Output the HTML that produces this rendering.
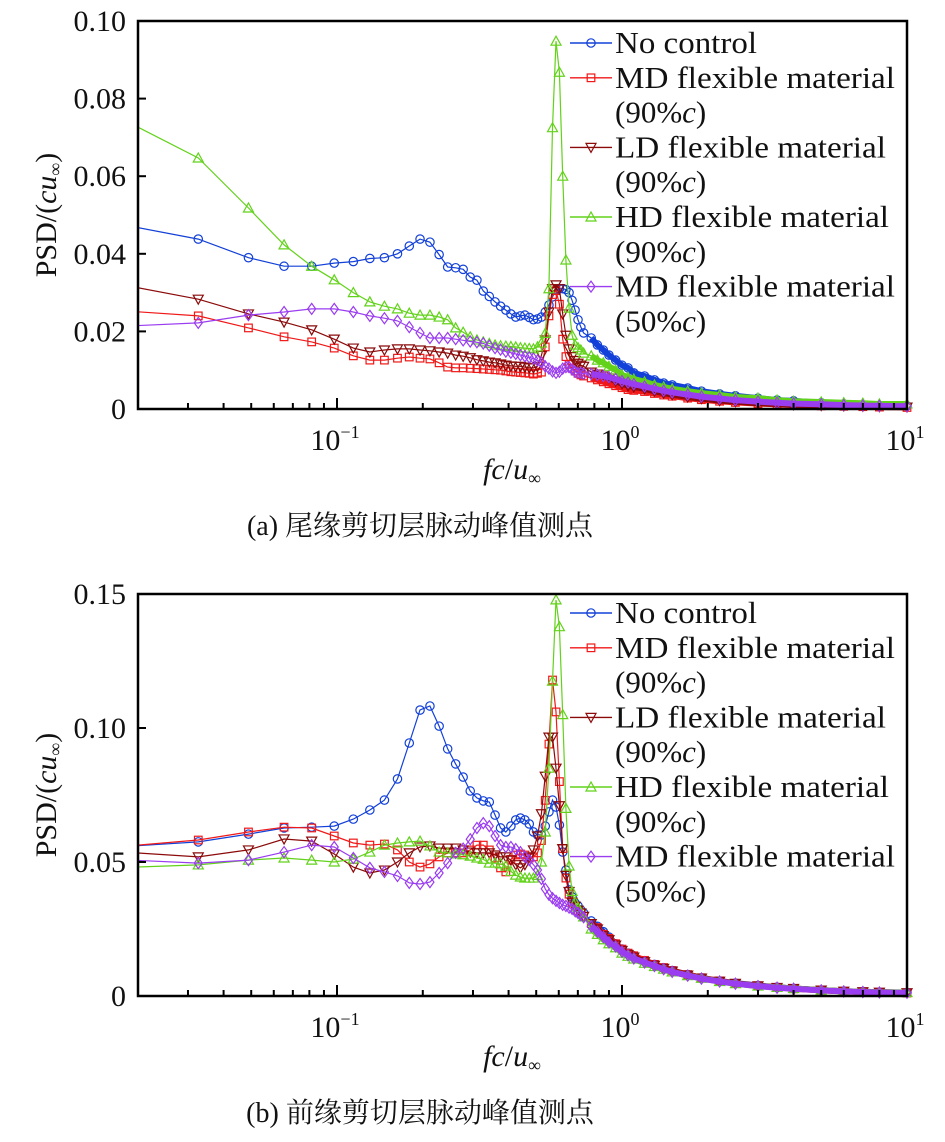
<!DOCTYPE html>
<html><head><meta charset="utf-8"><style>
html,body{margin:0;padding:0;background:#fff;}
svg{display:block;font-family:"Liberation Serif","Noto Serif CJK SC",serif;}
</style></head><body>
<svg id="fig" width="945" height="1142" viewBox="0 0 945 1142" xmlns="http://www.w3.org/2000/svg">
<rect width="945" height="1142" fill="#fff"/>
</svg>
<script>
const freq=[0.0163,0.0326,0.0489,0.0652,0.0815,0.0978,0.1141,0.1304,0.1467,0.163,0.1793,0.1956,0.2119,0.2282,0.2445,0.2608,0.2771,0.2934,0.3097,0.326,0.3423,0.3586,0.3749,0.3912,0.4075,0.4238,0.4401,0.4564,0.4727,0.489,0.5053,0.5216,0.5379,0.5542,0.5705,0.5868,0.6031,0.6194,0.6357,0.652,0.6683,0.6846,0.7009,0.7172,0.7335,
0.78,0.82,0.86,0.9,0.95,1.0,1.05,1.1,1.2,1.3,1.4,1.5,1.7,1.9,2.2,2.5,3,3.5,4,5,6,7,8,10];

const topBlue=[0.048,0.0438,0.039,0.0368,0.0368,0.0376,0.038,0.0388,0.039,0.040,0.042,0.0438,0.043,0.0398,0.0366,0.0364,0.036,0.034,0.0332,0.0304,0.029,0.0276,0.0265,0.0255,0.0245,0.0237,0.024,0.0242,0.0236,0.023,0.0232,0.0237,0.025,0.0268,0.0289,0.0307,0.031,0.031,0.0308,0.030,0.028,0.0255,0.023,0.0211,0.0196,
0.0183,0.0165,0.0152,0.0139,0.0126,0.0113,0.0106,0.0093,0.0085,0.0075,0.0067,0.0062,0.0054,0.0046,0.0039,0.0034,0.0028,0.0023,0.0021,0.0016,0.0013,0.001,0.0009,0.0008];
const topRed=[0.0255,0.024,0.0209,0.0186,0.0173,0.0157,0.0137,0.0126,0.0126,0.0131,0.0134,0.0131,0.0129,0.0119,0.0108,0.0106,0.0106,0.0105,0.0104,0.0103,0.0102,0.0101,0.01,0.0098,0.0096,0.0095,0.0094,0.0093,0.0092,0.009,0.0092,0.0095,0.016,0.024,0.0295,0.0305,0.027,0.018,0.0135,0.0115,0.0105,0.0098,0.0092,0.0088,0.0085,
0.008,0.0075,0.007,0.0065,0.006,0.0055,0.005,0.0048,0.0045,0.004,0.0036,0.0033,0.0028,0.0024,0.002,0.0017,0.0014,0.0012,0.001,0.0008,0.0007,0.0006,0.0005,0.0004];
const topLD=[0.0325,0.0283,0.0245,0.0224,0.0204,0.018,0.0157,0.0147,0.0152,0.0155,0.0155,0.0152,0.015,0.0147,0.0144,0.0139,0.0136,0.0132,0.0127,0.0124,0.0121,0.0119,0.0116,0.0113,0.0111,0.011,0.011,0.0108,0.0106,0.0106,0.011,0.0138,0.0178,0.025,0.031,0.032,0.031,0.0245,0.019,0.0155,0.0135,0.0125,0.0118,0.0113,0.011,
0.0095,0.009,0.0085,0.008,0.0072,0.0065,0.006,0.0057,0.0052,0.0046,0.0041,0.0037,0.0031,0.0027,0.0022,0.0019,0.0015,0.0013,0.0011,0.0009,0.0008,0.0007,0.0006,0.0005];
const topGreen=[0.076,0.0647,0.0518,0.0423,0.0368,0.0333,0.030,0.0276,0.0265,0.0258,0.0247,0.0242,0.0242,0.0237,0.023,0.0209,0.0198,0.0186,0.0178,0.0173,0.0169,0.0165,0.0163,0.0162,0.0161,0.016,0.0158,0.0157,0.0156,0.0155,0.016,0.017,0.0195,0.031,0.0725,0.0948,0.0868,0.060,0.0384,0.026,0.019,0.0165,0.0158,0.0152,0.0144,
0.0137,0.0126,0.0119,0.011,0.01,0.0088,0.0082,0.0077,0.007,0.0062,0.0057,0.0052,0.0046,0.0041,0.0036,0.0031,0.0028,0.0023,0.002,0.0018,0.0016,0.0015,0.0013,0.0013];
const topPurple=[0.0212,0.0222,0.0242,0.025,0.0258,0.0258,0.025,0.024,0.0234,0.0227,0.0211,0.0196,0.0183,0.0183,0.0183,0.018,0.0177,0.0174,0.0172,0.0169,0.0163,0.0157,0.0153,0.0148,0.0145,0.0142,0.0139,0.0136,0.0133,0.013,0.0125,0.012,0.011,0.0104,0.0097,0.0093,0.0096,0.0104,0.0108,0.0108,0.0102,0.0096,0.0093,0.0093,0.0091,
0.009,0.0088,0.0085,0.0082,0.0077,0.0072,0.0068,0.0064,0.0058,0.0052,0.0047,0.0043,0.0037,0.0032,0.0027,0.0023,0.0019,0.0016,0.0014,0.0012,0.001,0.0009,0.0008,0.0007];

const botBlue=[0.0555,0.0575,0.0604,0.0627,0.063,0.0634,0.066,0.0694,0.0731,0.081,0.0944,0.1067,0.1082,0.1007,0.0922,0.0866,0.0817,0.0765,0.0739,0.0728,0.0724,0.0675,0.0627,0.0612,0.0634,0.0657,0.0664,0.0657,0.0642,0.0612,0.0601,0.0601,0.0634,0.0687,0.0731,0.0705,0.0638,0.0537,0.047,0.0396,0.037,0.0347,0.0336,0.0321,0.031,
0.028,0.026,0.024,0.022,0.0195,0.0175,0.016,0.015,0.0132,0.0118,0.0105,0.0095,0.008,0.0068,0.0056,0.0048,0.0039,0.0033,0.0028,0.0022,0.0018,0.0016,0.0014,0.0012];
const botRed=[0.0555,0.0582,0.0612,0.063,0.0627,0.0597,0.0571,0.0563,0.0567,0.0545,0.05,0.0481,0.0493,0.0519,0.0534,0.0534,0.0534,0.0545,0.0563,0.0563,0.0545,0.0515,0.0478,0.0463,0.051,0.0526,0.053,0.0526,0.0515,0.0519,0.0534,0.058,0.073,0.094,0.1179,0.106,0.08,0.055,0.044,0.038,0.035,0.0335,0.032,0.031,0.0297,
0.027,0.0255,0.023,0.0215,0.0195,0.0175,0.016,0.015,0.0133,0.0118,0.0106,0.0095,0.008,0.0068,0.0056,0.0047,0.0038,0.0032,0.0027,0.0021,0.0017,0.0015,0.0013,0.0011];
const botLD=[0.054,0.0519,0.0545,0.0586,0.0578,0.053,0.0481,0.0459,0.047,0.05,0.0534,0.0556,0.056,0.0552,0.0552,0.0552,0.0545,0.0537,0.0534,0.0534,0.0534,0.0526,0.0519,0.0519,0.0507,0.049,0.0478,0.049,0.0519,0.0545,0.0597,0.068,0.082,0.0966,0.0966,0.085,0.071,0.055,0.045,0.039,0.035,0.0335,0.032,0.031,0.0297,
0.027,0.025,0.0225,0.021,0.019,0.017,0.0155,0.0145,0.0128,0.0115,0.0103,0.0093,0.0078,0.0067,0.0055,0.0047,0.0038,0.0032,0.0028,0.0022,0.0018,0.0016,0.0014,0.0012];
const botGreen=[0.0478,0.0489,0.0507,0.0515,0.0507,0.05,0.0511,0.0537,0.0563,0.0571,0.0575,0.0578,0.056,0.0537,0.0534,0.053,0.0527,0.0522,0.0515,0.051,0.0496,0.0496,0.0493,0.0485,0.0465,0.0451,0.0444,0.044,0.044,0.044,0.045,0.050,0.0612,0.085,0.1175,0.1478,0.1378,0.105,0.07,0.0485,0.039,0.035,0.033,0.031,0.0295,
0.025,0.023,0.021,0.0195,0.018,0.016,0.0148,0.0138,0.0122,0.011,0.01,0.009,0.0076,0.0066,0.0054,0.0046,0.0037,0.0032,0.0028,0.0022,0.0018,0.0016,0.0014,0.0013];
const botPurple=[0.051,0.0496,0.0507,0.0537,0.0563,0.0556,0.0515,0.0478,0.0463,0.0448,0.0422,0.0418,0.0425,0.0459,0.0496,0.0534,0.055,0.0585,0.0627,0.0645,0.0634,0.0597,0.0563,0.0556,0.0556,0.0548,0.0537,0.0519,0.0507,0.049,0.047,0.0437,0.040,0.0378,0.0365,0.0355,0.0347,0.034,0.0336,0.033,0.0325,0.0317,0.031,0.0302,0.0294,
0.026,0.024,0.022,0.02,0.0185,0.0165,0.0152,0.014,0.0125,0.0112,0.01,0.009,0.0076,0.0065,0.0054,0.0046,0.0037,0.0031,0.0027,0.0021,0.0017,0.0015,0.0013,0.0012];

const topYTicks=[0,0.02,0.04,0.06,0.08,0.10];
const topYLabels=["0","0.02","0.04","0.06","0.08","0.10"];
const botYTicks=[0,0.05,0.10,0.15];
const botYLabels=["0","0.05","0.10","0.15"];
const xMajor=[0.1,1,10];
const xMajorExp=["\u22121","0","1"];
const xMinor=[0.03,0.04,0.05,0.06,0.07,0.08,0.09,0.2,0.3,0.4,0.5,0.6,0.7,0.8,0.9,2,3,4,5,6,7,8,9];

const NS="http://www.w3.org/2000/svg";
const svg=document.getElementById('fig');
function mk(tag,attrs,parent){const e=document.createElementNS(NS,tag);for(const k in attrs)e.setAttribute(k,attrs[k]);(parent||svg).appendChild(e);return e;}

const X0=138,X1=907;
const LOGMIN=-1-199/285, LOGMAX=1;
function xs(f){return X0+(Math.log10(f)-LOGMIN)/(LOGMAX-LOGMIN)*(X1-X0);}

function marker(g,type,x,y,color){
  let e;
  if(type==='circle'){e=mk('circle',{cx:x,cy:y,r:4.2,fill:'none',stroke:color,'stroke-width':1.2},g);}
  else if(type==='square'){e=mk('rect',{x:x-3.8,y:y-3.8,width:7.6,height:7.6,fill:'none',stroke:color,'stroke-width':1.2},g);}
  else if(type==='down'){e=mk('polygon',{points:`${x-5},${y-4} ${x+5},${y-4} ${x},${y+5}`,fill:'none',stroke:color,'stroke-width':1.2},g);}
  else if(type==='up'){e=mk('polygon',{points:`${x-5},${y+4} ${x+5},${y+4} ${x},${y-5}`,fill:'none',stroke:color,'stroke-width':1.2},g);}
  else {e=mk('polygon',{points:`${x},${y-5.5} ${x+4},${y} ${x},${y+5.5} ${x-4},${y}`,fill:'none',stroke:color,'stroke-width':1.2},g);}
  return e;
}

function drawChart(id,Y0,Y1,ymax,ticks,labels,series,legendTop,titleY,caption,captionY){
  const ys=v=>Y1-v/ymax*(Y1-Y0);
  const root=mk('g',{});
  
  
  const cp=mk('clipPath',{id:id+'-clip'},root);
  mk('rect',{x:X0,y:Y0-2,width:X1-X0+6,height:Y1-Y0+8},cp);
  const plot=mk('g',{'clip-path':`url(#${id}-clip)`},root);
  
  
  series.forEach(s=>{
    const g=mk('g',{},plot);
    
    
    const pts=s.data.map((v,i)=>xs(freq[i]).toFixed(1)+','+ys(v).toFixed(1)).join(' ');
    const line=mk('polyline',{points:pts,fill:'none',stroke:s.color,'stroke-width':1.2},g);
    
    
    const tailPts=s.data.map((v,i)=>freq[i]>0.74?xs(freq[i]).toFixed(1)+','+ys(v).toFixed(1):null).filter(p=>p).join(' ');
    const band=mk('polyline',{points:tailPts,fill:'none',stroke:s.color,'stroke-width':6,'stroke-linejoin':'round'},g);
    
    
    s.data.forEach((v,i)=>{
      const m=marker(g,s.marker,xs(freq[i]),ys(v),s.color);
      
      
    });
  });
  const fr=mk('rect',{x:X0,y:Y0,width:X1-X0,height:Y1-Y0,fill:'none',stroke:'#000','stroke-width':2.5},root);
  
  
  ticks.forEach((t,i)=>{
    const y=ys(t);
    const tk=mk('line',{x1:X0,x2:X0+8,y1:y,y2:y,stroke:'#000','stroke-width':2},root);
    
    
    const tx=mk('text',{x:126,y:y+10,'text-anchor':'end','font-size':30,fill:'#111'},root);
    tx.textContent=labels[i];
    
    
  });
  xMinor.forEach(f=>{
    const x=xs(f);
    const tk=mk('line',{x1:x,x2:x,y1:Y1,y2:Y1-6,stroke:'#000','stroke-width':2},root);
    
    
  });
  xMajor.forEach((f,i)=>{
    const x=xs(f);
    const tk=mk('line',{x1:x,x2:x,y1:Y1,y2:Y1-11,stroke:'#000','stroke-width':2},root);
    
    
    const tx=mk('text',{x:x-2,y:Y1+41,'text-anchor':'middle','font-size':30,fill:'#111'},root);
    
    
    const a=mk('tspan',{},tx);a.textContent='10';
    const b=mk('tspan',{'font-size':18,dy:-12},tx);b.textContent=xMajorExp[i];
  });
  const xt=mk('text',{x:512,y:Y1+70,'text-anchor':'middle','font-size':30,fill:'#111'},root);
  
  
  let t1=mk('tspan',{'font-style':'italic'},xt);t1.textContent='fc';
  let t2=mk('tspan',{},xt);t2.textContent='/';
  let t3=mk('tspan',{'font-style':'italic'},xt);t3.textContent='u';
  let t4=mk('tspan',{'font-size':18,dy:5},xt);t4.textContent='\u221E';
  const yt=mk('text',{x:0,y:0,'text-anchor':'middle','font-size':30,fill:'#111',transform:`translate(56,${titleY}) rotate(-90)`},root);
  
  
  let y1=mk('tspan',{},yt);y1.textContent='PSD/(';
  let y2=mk('tspan',{'font-style':'italic'},yt);y2.textContent='cu';
  let y3=mk('tspan',{'font-size':18,dy:5},yt);y3.textContent='\u221E';
  let y4=mk('tspan',{dy:-5},yt);y4.textContent=')';
  const lg=mk('g',{},root);
  
  
  const rows=[[0,'No control',true,142],[1,'MD flexible material',true,280],[1,'(90%c)',false],[2,'LD flexible material',true,271],[2,'(90%c)',false],[3,'HD flexible material',true,274],[3,'(90%c)',false],[4,'MD flexible material',true,280],[4,'(50%c)',false]];
  rows.forEach((r,j)=>{
    const cy=legendTop+j*34.8;
    const s=series[r[0]];
    if(r[2]){
      const ln=mk('line',{x1:570,x2:612,y1:cy,y2:cy,stroke:s.color,'stroke-width':1.4},lg);
      
      
      const m=marker(lg,s.marker,591,cy,s.color);
      
      
    }
    const tx=mk('text',{x:615,y:cy+10,'font-size':31,fill:'#111'},lg);
    
    
    if(r[2]){tx.textContent=r[1];tx.setAttribute('textLength',r[3]);tx.setAttribute('lengthAdjust','spacingAndGlyphs');}
    else{const p1=mk('tspan',{},tx);p1.textContent=r[1].slice(0,4);const p2=mk('tspan',{'font-style':'italic'},tx);p2.textContent='c';const p3=mk('tspan',{},tx);p3.textContent=')';}
  });
  const cap=mk('text',{x:420,y:captionY,'text-anchor':'middle','font-size':28,fill:'#111'},root);
  
  
  cap.textContent=caption;
}

const colors={blue:'#1240d8',red:'#f01818',ld:'#8b0a0a',green:'#62d21a',purple:'#9a3cf0'};
drawChart('top',21,409,0.10,topYTicks,topYLabels,[
 {key:'no-control',data:topBlue,color:colors.blue,marker:'circle'},
 {key:'md-90',data:topRed,color:colors.red,marker:'square'},
 {key:'ld-90',data:topLD,color:colors.ld,marker:'down'},
 {key:'hd-90',data:topGreen,color:colors.green,marker:'up'},
 {key:'md-50',data:topPurple,color:colors.purple,marker:'diamond'}
],43,215,'(a) 尾缘剪切层脉动峰值测点',535);
drawChart('bottom',594,996,0.15,botYTicks,botYLabels,[
 {key:'no-control',data:botBlue,color:colors.blue,marker:'circle'},
 {key:'md-90',data:botRed,color:colors.red,marker:'square'},
 {key:'ld-90',data:botLD,color:colors.ld,marker:'down'},
 {key:'hd-90',data:botGreen,color:colors.green,marker:'up'},
 {key:'md-50',data:botPurple,color:colors.purple,marker:'diamond'}
],613,795,'(b) 前缘剪切层脉动峰值测点',1122);
</script>
</body></html>
